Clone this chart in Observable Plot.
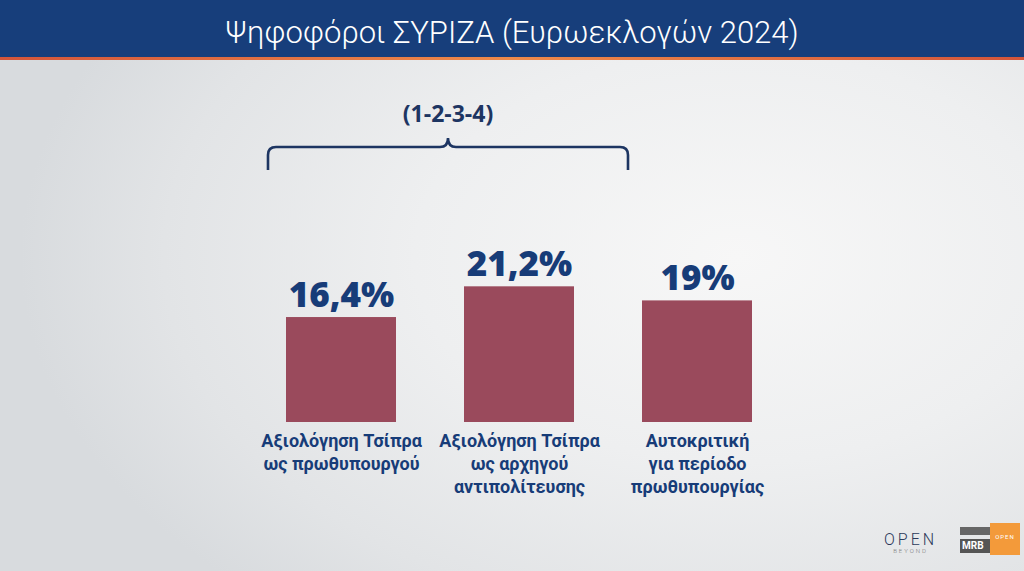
<!DOCTYPE html>
<html>
<head>
<meta charset="utf-8">
<script src="https://cdn.jsdelivr.net/npm/d3@7"></script>
<script src="https://cdn.jsdelivr.net/npm/@observablehq/plot@0.6"></script>
<style>
  html, body { margin: 0; padding: 0; }
  body {
    width: 1024px; height: 571px; overflow: hidden; position: relative;
    font-family: "Open Sans", Roboto, sans-serif;
    background: radial-gradient(ellipse 70% 80% at 72% 45%, #f7f7f7 0%, #eeeff0 45%, #e2e4e6 80%, #d8dbde 100%);
  }
  #header {
    height: 57px; box-sizing: border-box; padding-top: 8px; background: #173e7b; color: #fff;
    display: flex; align-items: center; justify-content: center;
    font-family: Roboto, sans-serif; font-size: 31px; font-weight: 300;
  }
  #accent { height: 3px; background: linear-gradient(90deg, #d4553a, #ee8a4a 50%, #d4553a); }
  #chart svg { display: block; }
  #logo1 { position: absolute; left: 884px; top: 530px; color: #2b3a5a; font-family: Roboto, sans-serif; font-size: 16px; letter-spacing: 3px; font-weight: 300; }
  #logo1 small { display: block; font-size: 6px; letter-spacing: 2px; text-align: center; color: #777; margin-top: -2px; }
  #logo2 { position: absolute; left: 960px; top: 523px; width: 60px; height: 38px; }
  #logo2 .g { position: absolute; left: 0; top: 4px; width: 30px; height: 8px; background: #666; }
  #logo2 .m { position: absolute; left: 0; top: 16px; width: 30px; height: 14px; background: #555; color: #fff; font: bold 10px Roboto, sans-serif; line-height: 14px; padding-left: 2px; box-sizing: border-box; }
  #logo2 .o { position: absolute; left: 30px; top: 0; width: 30px; height: 32px; background: #f39a3a; color: #fff; font: 6px Roboto, sans-serif; text-align: center; line-height: 28px; letter-spacing: 1px; }
</style>
</head>
<body>
<div id="header">Ψηφοφόροι ΣΥΡΙΖΑ (Ευρωεκλογών 2024)</div>
<div id="accent"></div>
<div id="chart"></div>
<div id="logo1">OPEN<small>BEYOND</small></div>
<div id="logo2"><div class="g"></div><div class="m">MRB</div><div class="o">OPEN</div></div>
<script>
const categories = [
  "Αξιολόγηση Τσίπρα\nως πρωθυπουργού",
  "Αξιολόγηση Τσίπρα\nως αρχηγού\nαντιπολίτευσης",
  "Αυτοκριτική\nγια περίοδο\nπρωθυπουργίας"
];
const values = [16.4, 21.2, 19];
const valueLabels = ["16,4%", "21,2%", "19%"];
const bracketLabel = "(1-2-3-4)";
const bracketSpan = [0, 1]; // categories covered by the bracket

const data = categories.map((c, i) => ({category: c, value: values[i], label: valueLabels[i]}));

const navy = "#173c78";
const barColor = "#9a4a5c";

function bracket(index, scales, values, dimensions) {
  const x = scales.x;
  const bw = x.bandwidth ? x.bandwidth() : 110;
  const x0 = x(categories[bracketSpan[0]]) - 18;
  const x1 = x(categories[bracketSpan[1]]) + bw + 54;
  const xm = (x0 + x1) / 2;
  const yTop = 87, yEnd = 110, r = 8;
  const g = d3.create("svg:g");
  const p = [
    `M${x0},${yEnd}`, `L${x0},${yTop + r}`, `Q${x0},${yTop} ${x0 + r},${yTop}`,
    `L${xm - 8},${yTop}`, `Q${xm},${yTop} ${xm},${yTop - 9}`,
    `Q${xm},${yTop} ${xm + 8},${yTop}`,
    `L${x1 - r},${yTop}`, `Q${x1},${yTop} ${x1},${yTop + r}`, `L${x1},${yEnd}`
  ].join(" ");
  g.append("path").attr("d", p).attr("fill", "none").attr("stroke", "#1d3562").attr("stroke-width", 2.6);
  g.append("text").attr("x", xm).attr("y", 62).attr("text-anchor", "middle")
    .attr("fill", "#1d3562").attr("font-size", 23).attr("font-weight", 700)
    .attr("font-family", "'Open Sans', Roboto, sans-serif").text(bracketLabel);
  return g.node();
}

const chart = Plot.plot({
  width: 1024,
  height: 511,
  marginLeft: 218,
  marginRight: 204,
  marginTop: 202,
  marginBottom: 149,
  style: {background: "transparent", overflow: "visible", fontFamily: "'Open Sans', Roboto, sans-serif"},
  x: {domain: categories, padding: 0.382, axis: null},
  y: {domain: [0, 25], axis: null},
  marks: [
    Plot.barY(data, {x: "category", y: "value", fill: barColor}),
    Plot.text(data, {x: "category", y: "value", text: "label", lineAnchor: "bottom", dy: -11,
      fontSize: 35, fontWeight: 800, fill: navy}),
    Plot.axisX({label: null, tickSize: 0, tickPadding: 8, fontSize: 18, fontWeight: 700, fill: navy,
      lineHeight: 1.28, lineAnchor: "top", fontFamily: "Roboto, sans-serif"}),
    bracket
  ]
});
document.getElementById("chart").appendChild(chart);
</script>
</body>
</html>
